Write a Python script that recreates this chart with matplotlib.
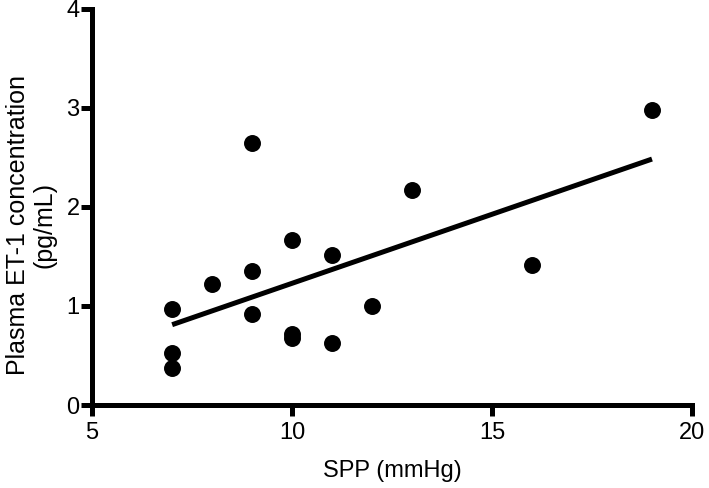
import numpy as np
import matplotlib.pyplot as plt

plt.rcParams['font.family'] = ['Liberation Sans', 'DejaVu Sans']

# SPP (mmHg) vs plasma ET-1 (pg/mL)
spp = [7, 7, 7, 8, 9, 9, 9, 10, 10, 10, 11, 11, 12, 13, 16, 19]
et1 = [0.97, 0.53, 0.37, 1.22, 2.65, 1.35, 0.92, 1.67, 0.72, 0.68,
       1.51, 0.63, 1.00, 2.17, 1.41, 2.98]

x_ticks = [5, 10, 15, 20]
y_ticks = [0, 1, 2, 3, 4]

fig = plt.figure(figsize=(7.09, 4.88), dpi=100)
ax = fig.add_axes([0.13, 0.17, 0.846, 0.812])

ax.scatter(spp, et1, s=125, color='black', zorder=3, clip_on=False)

# linear fit over data range
slope, icpt = np.polyfit(spp, et1, 1)
xf = np.array([min(spp), max(spp)])
ax.plot(xf, slope * xf + icpt, color='black', lw=3.6, solid_capstyle='butt')

ax.set_xlim(5, 20)
ax.set_ylim(0, 4)
ax.set_xticks(x_ticks)
ax.set_yticks(y_ticks)

for side in ['top', 'right']:
    ax.spines[side].set_visible(False)
for side in ['left', 'bottom']:
    ax.spines[side].set_linewidth(3.6)
ax.tick_params(width=3.6, length=8, labelsize=17, pad=1)
ax.tick_params(axis='x', pad=4)

ax.set_xlabel('SPP (mmHg)', fontsize=17, labelpad=12)
ax.set_ylabel('Plasma ET-1 concentration\n(pg/mL)', fontsize=18,
              linespacing=1.1)
ax.yaxis.set_label_coords(-0.06, 0.455)

fig.savefig('out.png', dpi=100)
